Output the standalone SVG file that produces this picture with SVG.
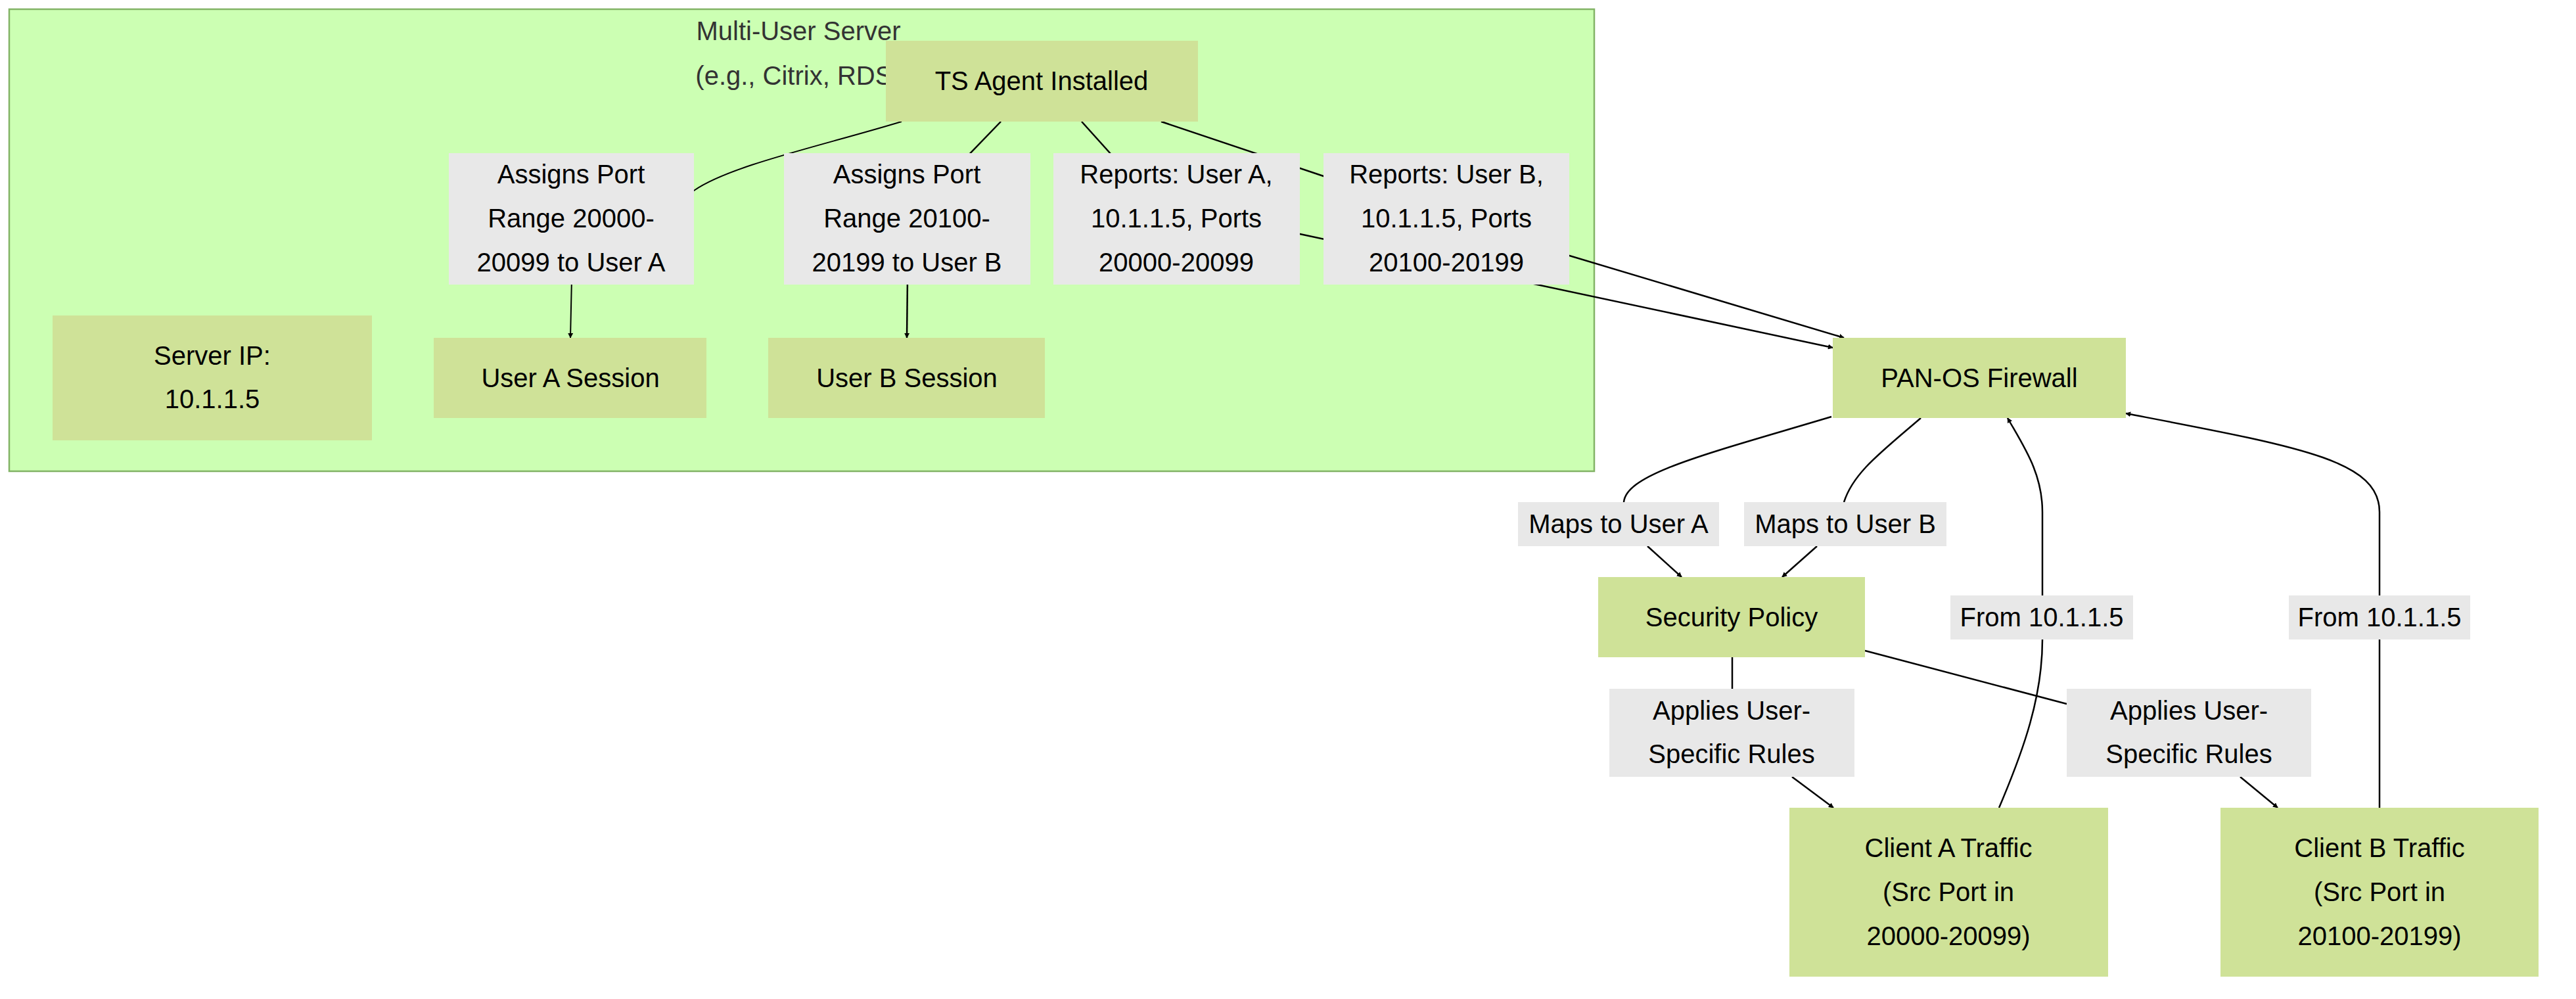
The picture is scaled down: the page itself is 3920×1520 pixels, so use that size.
<svg xmlns="http://www.w3.org/2000/svg" width="3920" height="1520" viewBox="0 0 3920 1520">
<defs>
<marker id="arr" viewBox="0 0 10 10" refX="9" refY="5" markerWidth="8" markerHeight="8" markerUnits="userSpaceOnUse" orient="auto"><path d="M0,0 L10,5 L0,10 z" fill="#000"/></marker>
<style>
text{font-family:"Liberation Sans",Arial,sans-serif;font-size:40px;fill:#000;text-anchor:middle;dominant-baseline:central}
.node{fill:#cfe298}
.lbl{fill:#e8e8e8}
.edge{fill:none;stroke:#000;stroke-width:2.5}
.ct{fill:#333}
</style>
</defs>
<rect width="3920" height="1520" fill="#fff"/>
<g id="cluster">
<rect x="14" y="14" width="2412" height="703" fill="#ccffb3" stroke="#82b366" stroke-width="2.5"/>
<text class="ct" x="1215" y="47">Multi-User Server</text>
<text class="ct" x="1215" y="115">(e.g., Citrix, RDS)</text>
</g>
<g id="connectors">
<path class="edge" marker-end="url(#arr)" style="stroke-width:2;" d="M1372,185 C1250,222 1110,252 1056,290 L872,333 L868,514"/>
<path class="edge" d="M1523,185 L1380,333"/>
<path class="edge" marker-end="url(#arr)" d="M1382,333 L1380,514"/>
<path class="edge" d="M1646,185 L1700,245 C1760,310 1850,330 1978,356"/>
<path class="edge" marker-end="url(#arr)" d="M1978,356 L2789,529"/>
<path class="edge" marker-end="url(#arr)" d="M1767,185 L2014,268 L2201,333 L2806,514"/>
<path class="edge" d="M2787,634 C2600,690 2475,720 2471,764"/>
<path class="edge" marker-end="url(#arr)" d="M2507,831 L2559,878"/>
<path class="edge" d="M2923,636 C2860,690 2820,720 2806,764"/>
<path class="edge" marker-end="url(#arr)" d="M2765,831 L2712,878"/>
<path class="edge" d="M2636,1000 L2636,1048"/>
<path class="edge" marker-end="url(#arr)" d="M2727,1182 L2790,1229"/>
<path class="edge" d="M2838,990 L3145,1071"/>
<path class="edge" marker-end="url(#arr)" d="M3409,1182 L3466,1229"/>
<path class="edge" marker-end="url(#arr)" d="M3042,1229 C3080,1140 3108,1060 3108,973 L3108,779 C3108,720 3080,680 3055,636"/>
<path class="edge" marker-end="url(#arr)" d="M3621,1229 L3621,779 C3621,700 3500,680 3235,629"/>
</g>
<g id="ts"><rect class="node" x="1348" y="62" width="475" height="123"/><text x="1585" y="123">TS Agent Installed</text></g>
<g id="lblAssignA"><rect class="lbl" x="683" y="233" width="373" height="200"/><text x="869" y="265">Assigns Port</text><text x="869" y="332">Range 20000-</text><text x="869" y="399">20099 to User A</text></g>
<g id="lblAssignB"><rect class="lbl" x="1193" y="233" width="375" height="200"/><text x="1380" y="265">Assigns Port</text><text x="1380" y="332">Range 20100-</text><text x="1380" y="399">20199 to User B</text></g>
<g id="lblReportA"><rect class="lbl" x="1603" y="233" width="375" height="200"/><text x="1790" y="265">Reports: User A,</text><text x="1790" y="332">10.1.1.5, Ports</text><text x="1790" y="399">20000-20099</text></g>
<g id="lblReportB"><rect class="lbl" x="2014" y="233" width="374" height="200"/><text x="2201" y="265">Reports: User B,</text><text x="2201" y="332">10.1.1.5, Ports</text><text x="2201" y="399">20100-20199</text></g>
<g id="serverip"><rect class="node" x="80" y="480" width="486" height="190"/><text x="323" y="541">Server IP:</text><text x="323" y="607">10.1.1.5</text></g>
<g id="usera"><rect class="node" x="660" y="514" width="415" height="122"/><text x="868" y="575">User A Session</text></g>
<g id="userb"><rect class="node" x="1169" y="514" width="421" height="122"/><text x="1380" y="575">User B Session</text></g>
<g id="fw"><rect class="node" x="2789" y="514" width="446" height="122"/><text x="3012" y="575">PAN-OS Firewall</text></g>
<g id="lblMapsA"><rect class="lbl" x="2310" y="764" width="306" height="67"/><text x="2463" y="797">Maps to User A</text></g>
<g id="lblMapsB"><rect class="lbl" x="2654" y="764" width="308" height="67"/><text x="2808" y="797">Maps to User B</text></g>
<g id="sp"><rect class="node" x="2432" y="878" width="406" height="122"/><text x="2635" y="939">Security Policy</text></g>
<g id="lblFromA"><rect class="lbl" x="2968" y="906" width="278" height="67"/><text x="3107" y="939">From 10.1.1.5</text></g>
<g id="lblFromB"><rect class="lbl" x="3483" y="906" width="276" height="67"/><text x="3621" y="939">From 10.1.1.5</text></g>
<g id="lblApplyA"><rect class="lbl" x="2449" y="1048" width="373" height="134"/><text x="2635" y="1081">Applies User-</text><text x="2635" y="1147">Specific Rules</text></g>
<g id="lblApplyB"><rect class="lbl" x="3145" y="1048" width="372" height="134"/><text x="3331" y="1081">Applies User-</text><text x="3331" y="1147">Specific Rules</text></g>
<g id="clienta"><rect class="node" x="2723" y="1229" width="485" height="257"/><text x="2965" y="1290">Client A Traffic</text><text x="2965" y="1357">(Src Port in</text><text x="2965" y="1424">20000-20099)</text></g>
<g id="clientb"><rect class="node" x="3379" y="1229" width="484" height="257"/><text x="3621" y="1290">Client B Traffic</text><text x="3621" y="1357">(Src Port in</text><text x="3621" y="1424">20100-20199)</text></g>
</svg>
